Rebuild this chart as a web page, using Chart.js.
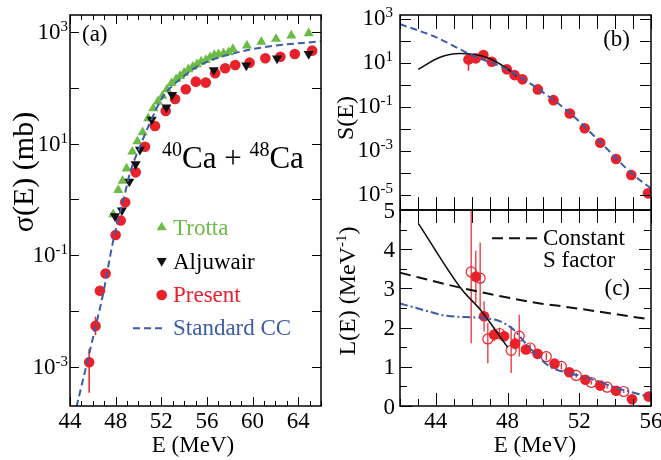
<!DOCTYPE html>
<html><head><meta charset="utf-8">
<script src="https://cdn.jsdelivr.net/npm/chart.js@4.4.0/dist/chart.umd.min.js"></script>
<style>
html,body{margin:0;padding:0;background:#fff;}
#wrap{position:relative;width:661px;height:460px;overflow:hidden;}
canvas{position:absolute;left:0;top:0;}
</style></head><body>
<div id="wrap">
<canvas id="ca" width="661" height="460"></canvas>
<canvas id="cb" width="661" height="460"></canvas>
<canvas id="cc" width="661" height="460"></canvas>
</div>
<script>
// ---------------- Panel (a): cross sections ----------------
const aPresentE = [45.68,46.24,46.62,47.12,48.0,48.44,48.84,49.76,50.57,51.45,52.39,53.21,54.15,55.03,55.9,56.72,57.6,58.48,59.74,61.12,62.44,63.7,65.22];
const aPresentSigma = [1.2e-3,5.4e-3,0.023,0.047,0.23,0.42,0.89,3.07,8.85,20.8,38.7,63.5,95,130,125,184,226,259,285,341,365,408,468];
const aErrE = [45.68,46.24];
const aErrLo = [3.4e-4,3.7e-3];
const aErrHi = [2.1e-3,7.9e-3];
const aTrottaE = [47.79,48.23,48.61,48.96,49.46,49.9,50.37,50.86,51.3,51.7,52.1,52.5,52.9,53.3,53.65,54.0,54.38,54.76,55.12,55.49,55.91,56.28,56.64,57.02,57.46,57.9,58.28,59.51,60.77,62.06,63.4,64.92];
const aTrottaSigma = [0.54,1.48,2.17,3.6,7.2,11,16,28.7,43,57,72,95,122,144,164,188,217,241,267,297,318,356,391,403,420,438,501,575,670,759,871,955];
const aAljuwairE = [47.94,48.55,49.2,49.75,50.13,51.16,52.45,52.95,56.6,59.45,62.15,64.92];
const aAljuwairSigma = [0.5,0.64,2.1,4.3,7.8,27,45,75,210,255,340,410];
const aCCE = [44.57,46.18,46.9,47.73,48.82,49.25,50.13,51.0,52.15,53.94,55.4,58.33,61.27,66];
const aCCSigma = [1.9e-4,4.6e-3,0.02,0.16,1.29,2.96,8.9,23.5,70,160,258,418,550,690];
const xTicksA = [44,48,52,56,60,64];
const yTickExpA = [-3,-1,1,3];

// ---------------- Panel (b): S factor ----------------
const bPresentE = [45.82,46.23,46.65,47.12,47.96,48.39,48.83,49.69,50.56,51.47,52.3,53.17,54.05,54.9,55.83];
const bPresentS = [15.1,16.8,23.7,11.8,5.3,2.9,1.86,0.65,0.21,0.052,0.011,2.4e-3,4.4e-4,8.2e-5,1.2e-5];
const bErrE = [45.82];
const bErrLo = [4.6];
const bErrHi = [22];
const bCCE = [42,44,46,47.96,49.69,51.47,53.17,54.9,56];
const bCCS = [611,155,23.7,5.3,0.7,0.055,2.6e-3,1.0e-4,2.0e-5];
const bFitE = [43.02,44.2,45.35,46.8,47.96,48.5];
const bFitS = [5.3,18.6,28,19,5.9,2.6];
const yTickExpB = [-5,-3,-1,1,3];

// ---------------- Panel (c): logarithmic derivative ----------------
const cFilledE = [46.23,46.69,47.25,47.81,48.42,49.02,49.67,50.62,51.44,52.34,53.17,54.05,54.94,55.87];
const cFilledL = [3.30,2.29,1.82,1.78,1.59,1.44,1.33,1.08,0.86,0.67,0.52,0.39,0.17,0.24];
const cFilledLo = [2.63,1.9,1.65,1.65,1.45,null,null,null,null,null,null,null,null,null];
const cFilledHi = [3.96,2.67,2.0,1.92,1.75,null,null,null,null,null,null,null,null,null];
const cOpenE = [45.97,46.47,46.9,47.55,48.2,48.65,49.26,50.16,51.0,51.83,52.67,53.55,54.48];
const cOpenL = [3.42,3.26,1.71,1.85,1.42,1.78,1.48,1.26,1.01,0.78,0.60,0.48,0.37];
const cOpenLo = [1.6,2.46,1.09,1.7,0.84,1.26,1.38,1.17,0.93,0.72,0.55,0.44,0.33];
const cOpenHi = [5.0,4.17,2.12,2.0,2.03,2.33,1.58,1.35,1.09,0.84,0.65,0.52,0.41];
const cConstE = [42,45.35,47.4,49.82,50.94,55.8];
const cConstL = [3.40,3.02,2.82,2.615,2.55,2.22];
const cCCE = [42,43.3,44.6,46.47,47.59,48.33,49.08,50.38,51.3,52.24,54.29,55.87];
const cCCL = [2.615,2.45,2.3,2.25,2.16,1.95,1.56,1.0,0.85,0.75,0.43,0.24];
const cFitE = [43.02,45.45,46.47,48.0];
const cFitL = [4.66,2.97,2.46,1.5];
const xTicksC = [44,48,52,56];
const yTicksC = [0,1,2,3,4,5];

// ---------------- styling ----------------
const FONT = '"Liberation Serif", "Times New Roman", Times, serif';
const RED = '#e8212b', BLUE = '#3b5ca8', GREEN = '#6cbb47', BLACK = '#111111';

function pts(xs, ys){ return xs.map((x,i)=>({x:x, y:ys[i]})); }
function seg(ctx,x1,y1,x2,y2){ ctx.beginPath(); ctx.moveTo(x1,y1); ctx.lineTo(x2,y2); ctx.stroke(); }
function richWidth(ctx, parts, F, S){ let w=0; for(const p of parts){ ctx.font=(p.sup?S:F)+'px '+FONT; w+=ctx.measureText(p.t).width; } return w; }
function drawRich(ctx, parts, x, y, o){
  const F=o.F||23, S=o.S||Math.round(F*0.64), R=o.R||F*0.36;
  ctx.save(); ctx.translate(x,y); if(o.rot) ctx.rotate(o.rot);
  ctx.fillStyle=o.color||'#000'; ctx.textBaseline='alphabetic'; ctx.textAlign='left';
  const w=richWidth(ctx,parts,F,S);
  let cx = o.align==='right' ? -w : (o.align==='center' ? -w/2 : 0);
  for(const p of parts){ ctx.font=(p.sup?S:F)+'px '+FONT; ctx.fillText(p.t, cx, p.sup?-R:0); cx+=ctx.measureText(p.t).width; }
  ctx.restore();
}

function decoPlugin(spec){
  return {
    id:'deco',
    beforeDatasetsDraw(chart){
      const ctx=chart.ctx, a=chart.chartArea, xs=chart.scales.x, ys=chart.scales.y;
      ctx.save(); ctx.beginPath(); ctx.rect(a.left,a.top,a.right-a.left,a.bottom-a.top); ctx.clip();
      for(const eb of (spec.errors||[])){
        ctx.strokeStyle=eb.color; ctx.lineWidth=eb.width||1.5;
        eb.E.forEach((e,i)=>{ if(eb.lo[i]==null) return; const px=xs.getPixelForValue(e);
          seg(ctx,px,ys.getPixelForValue(eb.lo[i]),px,ys.getPixelForValue(eb.hi[i])); });
      }
      ctx.restore();
    },
    afterDraw(chart){
      const ctx=chart.ctx, a=chart.chartArea, xs=chart.scales.x, ys=chart.scales.y;
      ctx.save();
      ctx.strokeStyle='#000'; ctx.lineWidth=1;
      for(const t of spec.xTicks){ const px=Math.round(xs.getPixelForValue(t.v))+0.5;
        if(t.bot) seg(ctx,px,a.bottom,px,a.bottom-t.bot); if(t.top) seg(ctx,px,a.top,px,a.top+t.top); }
      for(const t of spec.yTicks){ const py=Math.round(ys.getPixelForValue(t.v))+0.5;
        seg(ctx,a.left,py,a.left+t.len,py); seg(ctx,a.right,py,a.right-t.len,py); }
      ctx.lineWidth=1.5; ctx.strokeRect(a.left,a.top,a.right-a.left,a.bottom-a.top);
      for(const l of (spec.xLabels||[])) drawRich(ctx,l.parts,xs.getPixelForValue(l.v),spec.xLabelBase,{F:spec.tickF,align:'center'});
      for(const l of (spec.yLabels||[])) drawRich(ctx,l.parts,spec.yLabelRight,ys.getPixelForValue(l.v)+spec.yLabelDy,{F:spec.tickF,S:15,R:8,align:'right'});
      for(const t of (spec.texts||[])) drawRich(ctx,t.parts,t.x,t.y,t);
      if(spec.extra) spec.extra(ctx,chart);
      ctx.restore();
    }
  };
}

function scaleX(min,max,h){ return {type:'linear',position:'bottom',min:min,max:max,grid:{display:false},border:{display:false},ticks:{display:false},title:{display:false},afterFit(s){s.height=h;}}; }
function scaleY(type,min,max,w){ return {type:type,position:'left',min:min,max:max,grid:{display:false},border:{display:false},ticks:{display:false},title:{display:false},afterFit(s){s.width=w;}}; }
const baseOpts = (padTop,padRight,xs,ys)=>({responsive:false,animation:false,devicePixelRatio:1,events:[],
  layout:{padding:{left:0,top:padTop,right:padRight,bottom:0}},
  plugins:{legend:{display:false},tooltip:{enabled:false}},
  scales:{x:xs,y:ys}});

// ---------- tick specs ----------
const aXT=[]; for(let e=44;e<=66;e++){ const m=xTicksA.includes(e); aXT.push({v:e,bot:m?9:5,top:m?9:5}); }
const aYT=[]; for(let k=-3;k<=3;k++) aYT.push({v:Math.pow(10,k),len:9});
const bXT=[]; for(let e=42;e<=56;e++) bXT.push({v:e,bot:13,top:14});
const bYT=[]; for(let k=-5;k<=3;k++) bYT.push({v:Math.pow(10,k),len:11});
const cXT=[]; for(let e=42;e<=56;e++){ const m=xTicksC.includes(e); cXT.push({v:e,bot:m?13:7,top:13}); }
const cYT=[]; for(let k=0;k<=10;k++) cYT.push({v:k/2,len:(k%2===0)?12:7});

// ---------- chart (a) ----------
new Chart(document.getElementById('ca'),{
  type:'scatter',
  data:{datasets:[
    {label:'Standard CC',data:pts(aCCE,aCCSigma),showLine:true,borderColor:BLUE,borderWidth:2,borderDash:[7,4],pointRadius:0,cubicInterpolationMode:'monotone',order:0},
    {label:'Aljuwair',data:pts(aAljuwairE,aAljuwairSigma),pointStyle:'triangle',rotation:180,pointRadius:5.8,backgroundColor:BLACK,borderColor:BLACK,borderWidth:0,order:1},
    {label:'Present',data:pts(aPresentE,aPresentSigma),pointStyle:'circle',pointRadius:5.3,backgroundColor:RED,borderColor:RED,borderWidth:0,order:2},
    {label:'Trotta',data:pts(aTrottaE,aTrottaSigma),pointStyle:'triangle',pointRadius:5.8,backgroundColor:GREEN,borderColor:GREEN,borderWidth:0,order:3}
  ]},
  options:baseOpts(15,340,scaleX(44,66,54),scaleY('logarithmic',Math.pow(10,-3.705),Math.pow(10,3.31),70)),
  plugins:[decoPlugin({
    xTicks:aXT,yTicks:aYT,tickF:23,
    xLabels:xTicksA.map(v=>({v:v,parts:[{t:String(v)}]})),xLabelBase:428,
    yLabels:yTickExpA.map(k=>({v:Math.pow(10,k),parts:[{t:'10'},{t:String(k),sup:1}]})),yLabelRight:68,yLabelDy:7,
    errors:[{E:aErrE,lo:aErrLo,hi:aErrHi,color:RED}],
    texts:[
      {parts:[{t:'(a)'}],x:82,y:41,F:23},
      {parts:[{t:'40',sup:1},{t:'Ca + '},{t:'48',sup:1},{t:'Ca'}],x:162,y:168,F:31,S:20,R:12},
      {parts:[{t:'Trotta'}],x:173,y:234.5,F:23,color:GREEN},
      {parts:[{t:'Aljuwair'}],x:173,y:268.5,F:23},
      {parts:[{t:'Present'}],x:173,y:301.7,F:23,color:RED},
      {parts:[{t:'Standard CC'}],x:173,y:335,F:23,color:BLUE},
      {parts:[{t:'E (MeV)'}],x:193,y:452,F:23,align:'center'},
      {parts:[{t:'\u03c3(E) (mb)'}],x:33,y:172,F:30,align:'center',rot:-Math.PI/2}
    ],
    extra(ctx){
      ctx.fillStyle=GREEN; ctx.beginPath(); ctx.moveTo(161.7,221.7); ctx.lineTo(166.7,230.3); ctx.lineTo(156.7,230.3); ctx.closePath(); ctx.fill();
      ctx.fillStyle=BLACK; ctx.beginPath(); ctx.moveTo(161.7,266.7); ctx.lineTo(166.7,258); ctx.lineTo(156.7,258); ctx.closePath(); ctx.fill();
      ctx.fillStyle=RED; ctx.beginPath(); ctx.arc(161.7,295,5.3,0,Math.PI*2); ctx.fill();
      ctx.strokeStyle=BLUE; ctx.lineWidth=2; ctx.setLineDash([7,4]); seg(ctx,133,328.3,166,328.3); ctx.setLineDash([]);
    }
  })]
});

// ---------- chart (b) ----------
new Chart(document.getElementById('cb'),{
  type:'scatter',
  data:{datasets:[
    {label:'Standard CC',data:pts(bCCE,bCCS),showLine:true,borderColor:BLUE,borderWidth:2,borderDash:[7,4],pointRadius:0,cubicInterpolationMode:'monotone',order:0},
    {label:'Fit',data:pts(bFitE,bFitS),showLine:true,borderColor:BLACK,borderWidth:1.6,pointRadius:0,cubicInterpolationMode:'monotone',order:1},
    {label:'Present',data:pts(bPresentE,bPresentS),pointStyle:'circle',pointRadius:5.3,backgroundColor:RED,borderColor:RED,borderWidth:0,order:2}
  ]},
  options:baseOpts(15,10,scaleX(42,56,250),scaleY('logarithmic',Math.pow(10,-5.68),Math.pow(10,3.2),400)),
  plugins:[decoPlugin({
    xTicks:bXT,yTicks:bYT,tickF:23,
    yLabels:yTickExpB.map(k=>({v:Math.pow(10,k),parts:[{t:'10'},{t:String(k),sup:1}]})),yLabelRight:393,yLabelDy:6,
    errors:[{E:bErrE,lo:bErrLo,hi:bErrHi,color:RED}],
    texts:[
      {parts:[{t:'(b)'}],x:630,y:46,F:23,align:'right'},
      {parts:[{t:'S(E)'}],x:353,y:118,F:24,align:'center',rot:-Math.PI/2}
    ]
  })]
});

// ---------- chart (c) ----------
new Chart(document.getElementById('cc'),{
  type:'scatter',
  data:{datasets:[
    {label:'Constant S factor',data:pts(cConstE,cConstL),showLine:true,borderColor:BLACK,borderWidth:2,borderDash:[11,6],pointRadius:0,cubicInterpolationMode:'monotone',order:0},
    {label:'Standard CC',data:pts(cCCE,cCCL),showLine:true,borderColor:BLUE,borderWidth:2,borderDash:[8,3,2,3],pointRadius:0,cubicInterpolationMode:'monotone',order:1},
    {label:'Fit',data:pts(cFitE,cFitL),showLine:true,borderColor:BLACK,borderWidth:1.6,pointRadius:0,cubicInterpolationMode:'monotone',order:2},
    {label:'Present (filled)',data:pts(cFilledE,cFilledL),pointStyle:'circle',pointRadius:5.3,backgroundColor:RED,borderColor:RED,borderWidth:0,order:3},
    {label:'Present (open)',data:pts(cOpenE,cOpenL),pointStyle:'circle',pointRadius:5,backgroundColor:'rgba(0,0,0,0)',borderColor:RED,borderWidth:1.2,order:4}
  ]},
  options:baseOpts(210,10,scaleX(42,56,54),scaleY('linear',0,5,400)),
  plugins:[decoPlugin({
    xTicks:cXT,yTicks:cYT,tickF:23,
    xLabels:xTicksC.map(v=>({v:v,parts:[{t:String(v)}]})),xLabelBase:428,
    yLabels:yTicksC.map(v=>({v:v,parts:[{t:String(v)}]})),yLabelRight:395,yLabelDy:7.5,
    errors:[{E:cFilledE,lo:cFilledLo,hi:cFilledHi,color:RED,width:1.2},{E:cOpenE,lo:cOpenLo,hi:cOpenHi,color:RED,width:1.2}],
    texts:[
      {parts:[{t:'(c)'}],x:630,y:295,F:23,align:'right'},
      {parts:[{t:'Constant'}],x:543,y:245,F:23},
      {parts:[{t:'S factor'}],x:543,y:266.7,F:23},
      {parts:[{t:'E (MeV)'}],x:535,y:452,F:23,align:'center'},
      {parts:[{t:'L(E) (MeV'},{t:'-1',sup:1},{t:')'}],x:355,y:291,F:24,S:15,R:9,align:'center',rot:-Math.PI/2}
    ],
    extra(ctx){ ctx.strokeStyle=BLACK; ctx.lineWidth=2; ctx.setLineDash([11,6]); seg(ctx,492,238.3,539,238.3); ctx.setLineDash([]); }
  })]
});
</script>
</body></html>
